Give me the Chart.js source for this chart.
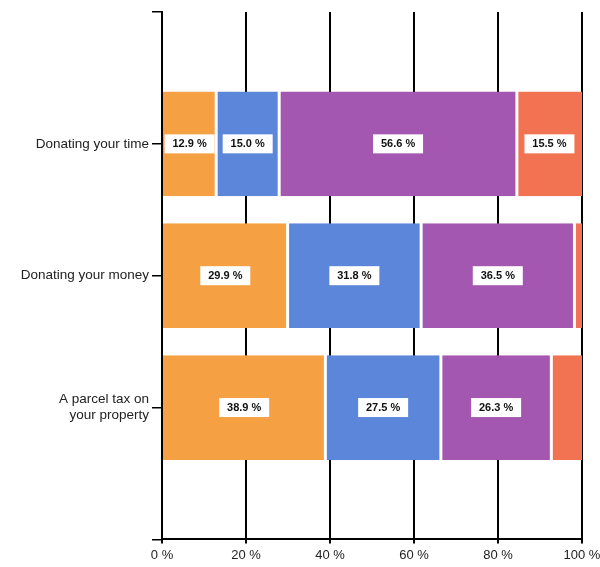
<!DOCTYPE html>
<html>
<head>
<meta charset="utf-8">
<script src="https://cdn.jsdelivr.net/npm/chart.js@4.4.0/dist/chart.umd.min.js"></script>
<style>
  body { margin: 0; background: #fff; }
  #wrap { width: 600px; height: 567px; }
</style>
</head>
<body>
<div id="wrap"><canvas id="myChart" width="600" height="567"></canvas></div>
<script>
// survey answers, share of respondents per option (%)
const categories = ["Donating your time", "Donating your money", ["A parcel tax on", "your property"]];
const seriesA = [12.9, 29.9, 38.9];
const seriesB = [15.0, 31.8, 27.5];
const seriesC = [56.6, 36.5, 26.3];
const seriesD = [15.5, 1.8, 7.3];
const xTicks = [0, 20, 40, 60, 80, 100];

const colors = ["#F5A043", "#5B86D9", "#A457B0", "#F27351"];

// pad with empty slots so the categories sit at 1..3 of a 0..4 axis
const labels = [""].concat(categories, [""]);
function pad(arr) {
  return [null].concat(arr, [null]);
}

const segLabels = {
  id: "segLabels",
  afterDatasetsDraw(chart) {
    const ctx = chart.ctx;
    ctx.save();
    ctx.font = 'bold 11px "Liberation Sans", Arial, sans-serif';
    ctx.textAlign = "center";
    ctx.textBaseline = "middle";
    chart.data.datasets.forEach((ds, i) => {
      chart.getDatasetMeta(i).data.forEach((bar, j) => {
        let v = ds.data[j];
        if (v == null || v < 10) return;
        let p = bar.getProps(["x", "y", "base"], true);
        let cx = (p.x + p.base) / 2;
        ctx.fillStyle = "#fff";
        ctx.fillRect(cx - 25, p.y - 9.5, 50, 19);
        ctx.fillStyle = "#111";
        ctx.fillText(v.toFixed(1) + " %", cx, p.y + 0.5);
      });
    });
    ctx.restore();
  },
};

function mkSet(data, i) {
  let bw = { left: 1.5, right: 1.5, top: 0, bottom: 0 };
  if (i === 0) bw = { left: 0, right: 1.5, top: 0, bottom: 0 };
  if (i === 3) bw = { left: 1.5, right: 0, top: 0, bottom: 0 };
  return {
    data: pad(data),
    backgroundColor: colors[i],
    borderColor: "#fff",
    borderWidth: bw,
    borderSkipped: false,
    categoryPercentage: 1,
    barPercentage: 0.795,
  };
}

var ctx = document.getElementById("myChart").getContext("2d");
var myChart = new Chart(ctx, {
  type: "bar",
  data: {
    labels: labels,
    datasets: [seriesA, seriesB, seriesC, seriesD].map(mkSet),
  },
  options: {
    indexAxis: "y",
    responsive: false,
    animation: false,
    devicePixelRatio: 1,
    layout: { padding: { top: 12, right: 18, bottom: 0, left: 0 } },
    plugins: { legend: { display: false }, tooltip: { enabled: false } },
    scales: {
      x: {
        stacked: true,
        min: 0,
        max: 100,
        afterBuildTicks: (scale) => {
          scale.ticks = xTicks.map((v) => ({ value: v }));
        },
        afterFit: (scale) => {
          // let the "100 %" label run to the canvas edge
          scale.paddingRight = 0;
        },
        border: { color: "#000", width: 2 },
        grid: { color: "#000", lineWidth: 2, tickLength: 4 },
        ticks: {
          color: "#222",
          padding: 4,
          maxRotation: 0,
          font: { family: '"Liberation Sans", Arial, sans-serif', size: 13 },
          callback: (v) => v + " %",
        },
      },
      y: {
        stacked: true,
        offset: false,
        afterFit: (scale) => {
          scale.width = 162;
        },
        border: { color: "#000", width: 2 },
        grid: { offset: false, drawOnChartArea: false, color: "#000", lineWidth: 1.5, tickLength: 10 },
        ticks: {
          color: "#222",
          padding: 3,
          autoSkip: false,
          font: { family: '"Liberation Sans", Arial, sans-serif', size: 13.5 },
        },
      },
    },
  },
  plugins: [segLabels],
});
</script>
</body>
</html>
